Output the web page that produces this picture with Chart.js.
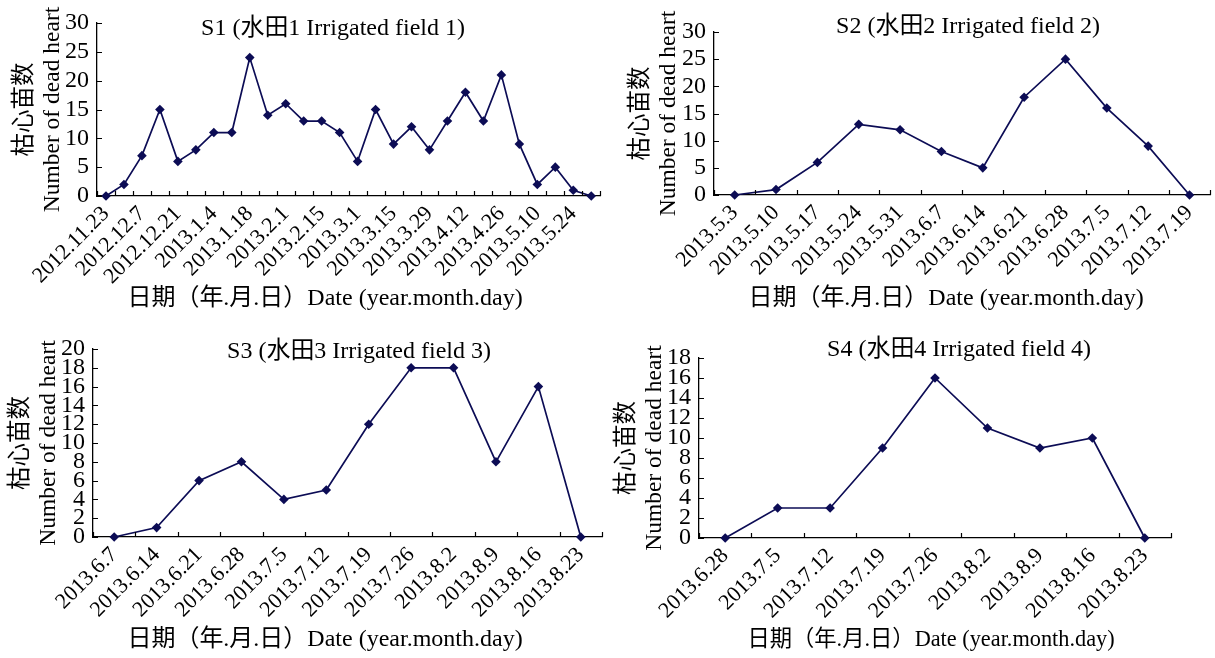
<!DOCTYPE html>
<html><head><meta charset="utf-8">
<script src="https://cdn.jsdelivr.net/npm/chart.js@4.4.0/dist/chart.umd.min.js"></script>
<style>
html,body{margin:0;padding:0;background:#fff;width:1215px;height:658px;overflow:hidden;}
canvas{position:absolute;display:block;}
</style></head><body>
<canvas id="c1" width="615" height="320" style="left:0;top:0"></canvas>
<canvas id="c2" width="605" height="320" style="left:610px;top:0"></canvas>
<canvas id="c3" width="610" height="333" style="left:0;top:325px"></canvas>
<canvas id="c4" width="605" height="333" style="left:610px;top:325px"></canvas>
<script>
// ---- data ----
const s1Dates = ['2012.11.23','2012.11.30','2012.12.7','2012.12.14','2012.12.21','2012.12.28','2013.1.4','2013.1.11','2013.1.18','2013.1.25','2013.2.1','2013.2.8','2013.2.15','2013.2.22','2013.3.1','2013.3.8','2013.3.15','2013.3.22','2013.3.29','2013.4.5','2013.4.12','2013.4.19','2013.4.26','2013.5.3','2013.5.10','2013.5.17','2013.5.24','2013.5.31'];
const s1Values = [0,2,7,15,6,8,11,11,24,14,16,13,13,11,6,15,9,12,8,13,18,13,21,9,2,5,1,0];
const s2Dates = ['2013.5.3','2013.5.10','2013.5.17','2013.5.24','2013.5.31','2013.6.7','2013.6.14','2013.6.21','2013.6.28','2013.7.5','2013.7.12','2013.7.19'];
const s2Values = [0,1,6,13,12,8,5,18,25,16,9,0];
const s3Dates = ['2013.6.7','2013.6.14','2013.6.21','2013.6.28','2013.7.5','2013.7.12','2013.7.19','2013.7.26','2013.8.2','2013.8.9','2013.8.16','2013.8.23'];
const s3Values = [0,1,6,8,4,5,12,18,18,8,16,0];
const s4Dates = ['2013.6.28','2013.7.5','2013.7.12','2013.7.19','2013.7.26','2013.8.2','2013.8.9','2013.8.16','2013.8.23'];
const s4Values = [0,3,3,9,16,11,9,10,0];
const titles = ['S1 (水田1 Irrigated field 1)','S2 (水田2 Irrigated field 2)','S3 (水田3 Irrigated field 3)','S4 (水田4 Irrigated field 4)'];
const yTitle = ['枯心苗数','Number of dead heart'];
const xTitle = '日期（年.月.日）Date (year.month.day)';
const yMax = [30,30,20,18];
const yStep = [5,5,2,2];

// ---- styling / layout ----
const FAM = "'Liberation Serif','Times New Roman','Noto Sans CJK SC',serif";
const LINE = '#0c0c55';

const decor = {
  id: 'decor',
  afterDraw(chart, args, o) {
    const ctx = chart.ctx, xs = chart.scales.x, ys = chart.scales.y;
    ctx.save();
    ctx.strokeStyle = '#000'; ctx.lineWidth = 1.2;
    ctx.beginPath();
    const n = chart.data.labels.length;
    for (let i = 0; i <= n; i++) {
      const px = Math.round(xs.getPixelForValue(i - 0.5)) + 0.5;
      ctx.moveTo(px, xs.top); ctx.lineTo(px, xs.top - 5);
    }
    ys.ticks.forEach(t => {
      const py = Math.round(ys.getPixelForValue(t.value)) + 0.5;
      ctx.moveTo(ys.right, py); ctx.lineTo(ys.right + 5, py);
    });
    ctx.stroke();
    ctx.fillStyle = '#000'; ctx.textAlign = 'center'; ctx.textBaseline = 'middle';
    ctx.font = '24px ' + FAM;
    ctx.fillText(o.title, o.tx, o.ty);
    ctx.font = o.xfs + 'px ' + FAM;
    ctx.fillText(xTitle, o.xx, o.xy);
    ctx.restore();
  }
};

function make(id, labels, values, k, L) {
  new Chart(document.getElementById(id), {
    type: 'line',
    data: { labels: labels, datasets: [{
      data: values, borderColor: LINE, backgroundColor: LINE, borderWidth: 1.7,
      pointStyle: 'rectRot', pointRadius: 4.8, pointBorderWidth: 0,
      pointBackgroundColor: LINE, tension: 0, clip: false, fill: false
    }]},
    options: {
      responsive: false, animation: false, devicePixelRatio: 1,
      layout: { padding: { left: 0, right: L.pr, top: L.pt, bottom: 0 } },
      plugins: {
        legend: { display: false }, tooltip: { enabled: false }, title: { display: false },
        decor: { title: titles[k], tx: L.tx, ty: L.ty, xx: L.xx, xy: L.xy, xfs: L.xfs }
      },
      scales: {
        x: {
          type: 'category', offset: true,
          grid: { display: false, drawTicks: false, offset: true },
          border: { display: true, color: '#000', width: 1.3 },
          ticks: {
            autoSkip: false, maxRotation: 45, minRotation: 45, padding: L.xp, color: '#000',
            font: { family: FAM, size: 22 },
            callback: function (v, i) { return (L.every === 2 && i % 2) ? '' : this.getLabelForValue(v); }
          },
          afterFit: s => { s.height = L.xh; }
        },
        y: {
          min: 0, max: yMax[k],
          grid: { display: false, drawTicks: false },
          border: { display: true, color: '#000', width: 1.3 },
          ticks: { stepSize: yStep[k], autoSkip: false, padding: 8, color: '#000', font: { family: FAM, size: 24 } },
          title: { display: true, text: yTitle, color: '#000',
                   font: { family: FAM, size: 23.5, lineHeight: 1.17 },
                   padding: { top: L.yp, bottom: 0 } },
          afterFit: s => { s.width = L.yw; }
        }
      }
    },
    plugins: [decor]
  });
}

make('c1', s1Dates, s1Values, 0, {pr:5, pt:23, xh:124, yw:97, yp:11.5, xp:5, every:2, tx:333, ty:29, xx:325, xy:299, xfs:24});
make('c2', s2Dates, s2Values, 1, {pr:2, pt:32, xh:125, yw:104, yp:17.5, xp:5, every:1, tx:968-610, ty:27, xx:946-610, xy:299, xfs:24});
make('c3', s3Dates, s3Values, 2, {pr:8, pt:24, xh:121, yw:93, yp:7.5, xp:5, every:1, tx:359, ty:27, xx:325, xy:315, xfs:24});
make('c4', s4Dates, s4Values, 3, {pr:44, pt:33, xh:120, yw:89, yp:3.5, xp:5, every:1, tx:959-610, ty:25, xx:931-610, xy:315, xfs:22.3});
</script>
</body></html>
